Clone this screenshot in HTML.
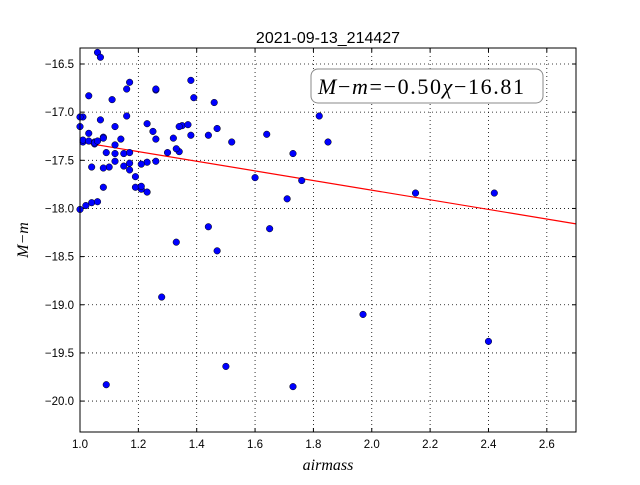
<!DOCTYPE html>
<html><head><meta charset="utf-8"><style>
body{margin:0;background:#fff}
svg text{font-family:"Liberation Sans","DejaVu Sans",sans-serif}
</style></head><body>
<svg id="c" width="640" height="480" xmlns="http://www.w3.org/2000/svg">
<rect width="640" height="480" fill="#fff"/>
<text x="328" y="43" text-anchor="middle" font-size="16">2021-09-13_214427</text>
<g id="grid"></g><g id="ticks"></g>
<line id="fit" stroke="#f00" stroke-width="1.2"/>
<g id="pts"></g>
<rect x="80" y="48" width="496" height="384" fill="none" stroke="#000"/>
<rect x="311" y="69" width="232" height="34" rx="7" fill="#fff" stroke="#888"/>
<text x="318" y="94" textLength="206" lengthAdjust="spacing" font-size="22" style="font-family:'Liberation Serif',serif"><tspan font-style="italic">M</tspan>−<tspan font-style="italic">m</tspan>=−0.50<tspan font-style="italic">χ</tspan>−16.81</text>
<text x="328" y="470" text-anchor="middle" font-size="16" font-style="italic" style="font-family:'Liberation Serif',serif">airmass</text>
<text transform="translate(28,240) rotate(-90)" text-anchor="middle" font-size="16" font-style="italic" style="font-family:'Liberation Serif',serif">M−m</text>
</svg>
<script>
const xTicks=[1.0,1.2,1.4,1.6,1.8,2.0,2.2,2.4,2.6];
const yTicks=[-16.5,-17.0,-17.5,-18.0,-18.5,-19.0,-19.5,-20.0];
const slope=-0.50, intercept=-16.81;
const airmass=[1.06,1.07,1.03,1.17,1.16,1.26,1.26,1.38,1.39,1.46,1.11,1.01,1.07,1.12,1.16,1.23,1.35,1.34,1.47,1.38,1.52,1.64,1.82,1.03,1.08,1.08,1.01,1.01,1.03,1.05,1.05,1.05,1.06,1.12,1.14,1.09,1.12,1.15,1.17,1.12,1.17,1.26,1.23,1.21,1.34,1.33,1.30,1.32,1.26,1.25,1.37,1.44,1.60,1.73,1.76,1.85,1.04,1.10,1.08,1.15,1.17,1.19,1.21,1.23,1.19,1.21,1.04,1.02,1.00,1.06,1.08,1.71,1.65,1.44,1.33,1.47,1.28,1.97,1.50,1.73,1.09,2.15,2.42,2.40,1.00,1.00];
const mag=[-16.38,-16.43,-16.83,-16.69,-16.76,-16.77,-16.76,-16.67,-16.85,-16.90,-16.87,-17.05,-17.08,-17.15,-17.04,-17.12,-17.14,-17.15,-17.17,-17.24,-17.31,-17.23,-17.04,-17.22,-17.26,-17.27,-17.31,-17.29,-17.30,-17.33,-17.31,-17.32,-17.30,-17.34,-17.28,-17.42,-17.43,-17.43,-17.42,-17.51,-17.53,-17.51,-17.52,-17.54,-17.41,-17.38,-17.42,-17.27,-17.28,-17.20,-17.13,-17.24,-17.68,-17.43,-17.71,-17.31,-17.57,-17.57,-17.58,-17.56,-17.60,-17.78,-17.80,-17.83,-17.67,-17.77,-17.94,-17.97,-18.01,-17.93,-17.78,-17.90,-18.21,-18.19,-18.35,-18.44,-18.92,-19.10,-19.64,-19.85,-19.83,-17.84,-17.84,-19.38,-17.05,-17.15];
const X0=80,X1=576,Y0=48,Y1=432,xmin=1.0,xmax=2.7,ymax=-16.334,ymin=-20.321;
const sx=v=>X0+(v-xmin)/(xmax-xmin)*(X1-X0);
const sy=v=>Y0+(ymax-v)/(ymax-ymin)*(Y1-Y0);
const NS="http://www.w3.org/2000/svg";
function mk(t,a,p){const e=document.createElementNS(NS,t);for(const k in a)e.setAttribute(k,a[k]);p.appendChild(e);return e;}
const grid=document.getElementById('grid'),ticks=document.getElementById('ticks');
xTicks.forEach(v=>{const x=sx(v);
 const g=mk('line',{x1:x,x2:x,y1:Y0,y2:Y1,stroke:'#000','stroke-dasharray':'1,3','stroke-width':0.8},grid);
 
 
 mk('line',{x1:x,x2:x,y1:Y1,y2:Y1-4,stroke:'#000'},ticks);mk('line',{x1:x,x2:x,y1:Y0,y2:Y0+4,stroke:'#000'},ticks);
 const t=mk('text',{x:x,y:Y1+16,'text-anchor':'middle','font-size':11.5},ticks);t.textContent=v.toFixed(1);
 
 });
yTicks.forEach(v=>{const y=sy(v);
 const g=mk('line',{x1:X0,x2:X1,y1:y,y2:y,stroke:'#000','stroke-dasharray':'1,3','stroke-width':0.8},grid);
 
 
 mk('line',{x1:X0,x2:X0+4,y1:y,y2:y,stroke:'#000'},ticks);mk('line',{x1:X1,x2:X1-4,y1:y,y2:y,stroke:'#000'},ticks);
 const t=mk('text',{x:X0-6,y:y+4,'text-anchor':'end','font-size':11.5},ticks);t.textContent=(v<0?'\u2212':'')+Math.abs(v).toFixed(1);
 
 });
const f=document.getElementById('fit');
f.setAttribute('x1',sx(xmin));f.setAttribute('y1',sy(slope*xmin+intercept));
f.setAttribute('x2',sx(xmax));f.setAttribute('y2',sy(slope*xmax+intercept));
const pts=document.getElementById('pts');
airmass.forEach((a,i)=>{const c=mk('circle',{cx:sx(a),cy:sy(mag[i]),r:3.3,fill:'#0000ff',stroke:'#000','stroke-width':0.5},pts);
 
 });
</script>
</body></html>
